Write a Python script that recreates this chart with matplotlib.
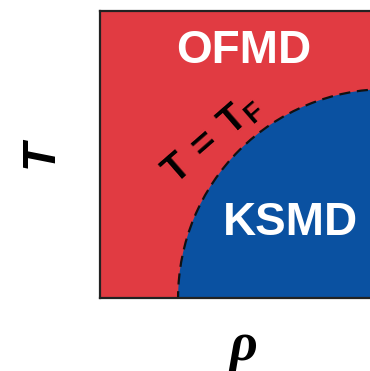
import matplotlib
matplotlib.use("Agg")
import matplotlib.pyplot as plt
from matplotlib.patches import Circle

# regime map: orbital-free MD above T_F, Kohn-Sham MD below
regions = ["OFMD", "KSMD"]
region_xy = [(0.50, 0.862), (0.665, 0.26)]
boundary_center = (1.0, 0.0)   # (rho, T) in axis units
boundary_radius = 0.728
boundary_label = r"$\mathbf{T\,=\,T_F}$"
boundary_label_xy = (0.392, 0.553)
xlabel = "ρ"
ylabel = "T"

red = "#E13B42"
blue = "#0A51A1"

plt.rcParams["mathtext.fontset"] = "custom"
plt.rcParams["mathtext.bf"] = "Liberation Sans:bold"

fig = plt.figure(figsize=(3.70, 3.71), dpi=100)
ax = fig.add_axes([0.2703, 0.1968, 0.7757, 0.7736])
ax.set_xlim(0, 1)
ax.set_ylim(0, 1)
ax.set_facecolor(red)

ks = Circle(boundary_center, boundary_radius, facecolor=blue, edgecolor="#111111",
            linewidth=1.6, linestyle=(0, (5, 3)), zorder=1)
ax.add_patch(ks)

for name, (x, y) in zip(regions, region_xy):
    ax.text(x, y, name, color="white", fontsize=33, fontweight="bold",
            family="Liberation Sans", ha="center", va="center", zorder=3)

ax.text(*boundary_label_xy, boundary_label, fontsize=28, rotation=41,
        ha="center", va="center", rotation_mode="anchor", zorder=3)

ax.set_xticks([])
ax.set_yticks([])
for sp in ax.spines.values():
    sp.set_color("#222222")
    sp.set_linewidth(1.6)
    sp.set_zorder(4)

fig.text(0.11, 0.585, ylabel, rotation=90, fontsize=34, fontweight="bold",
         fontstyle="italic", family="Liberation Sans", ha="center", va="center")
fig.text(0.657, 0.065, xlabel, fontsize=39, fontweight="bold",
         fontstyle="italic", family="Liberation Serif", ha="center", va="center")

fig.savefig("out.png", dpi=100)
